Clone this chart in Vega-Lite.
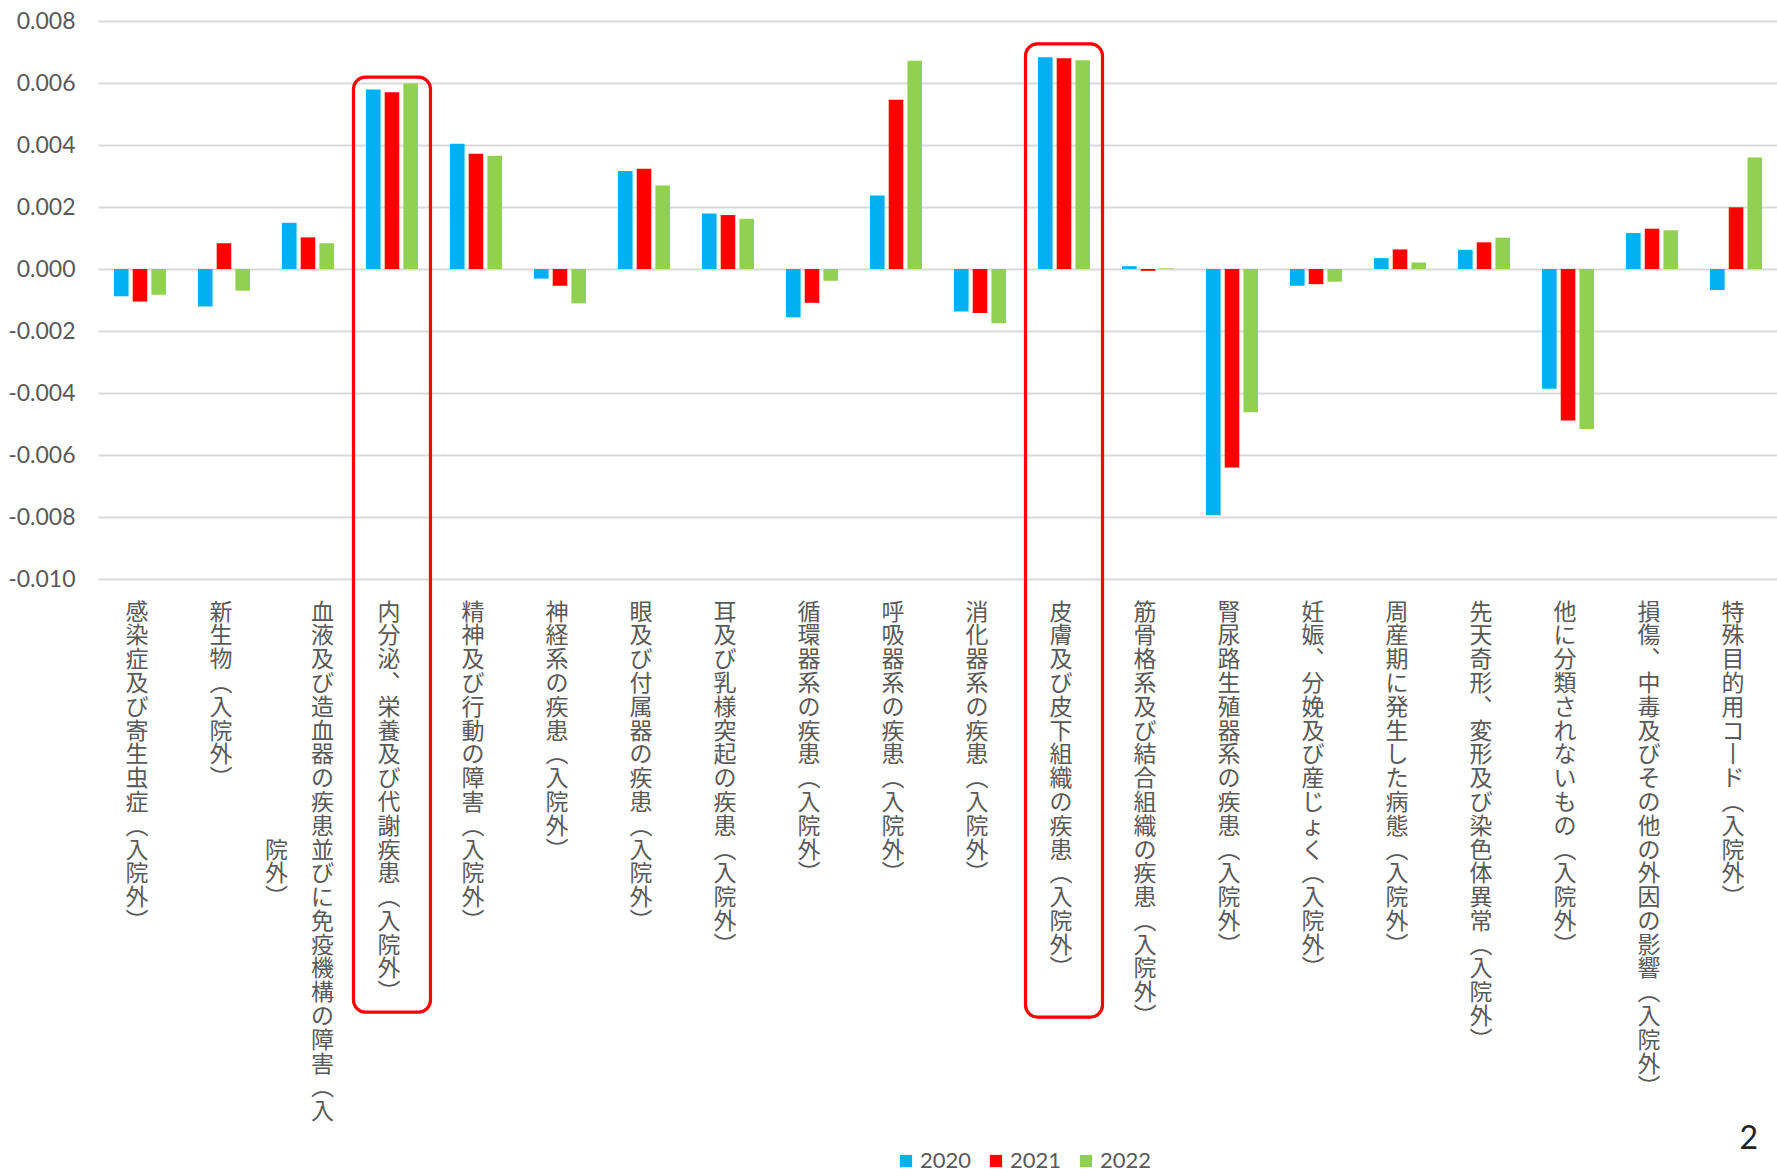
{
  "$schema": "https://vega.github.io/schema/vega-lite/v6.json",
  "width": 1680,
  "height": 558,
  "autosize": {"type": "none"},
  "padding": {"left": 98, "top": 21, "right": 0, "bottom": 593},
  "background": "white",
  "title": {"text": "2", "orient": "bottom", "anchor": "end", "fontSize": 32, "font": "Lato", "fontWeight": "normal", "color": "#222222", "dx": -20, "dy": -48, "offset": 0},
  "config": {"view": {"stroke": null}},
  "layer": [
    {
      "data": {"values": [
        {"cat": "感染症及び寄生虫症（入院外）", "year": "2020", "value": -0.00088},
        {"cat": "感染症及び寄生虫症（入院外）", "year": "2021", "value": -0.00105},
        {"cat": "感染症及び寄生虫症（入院外）", "year": "2022", "value": -0.00083},
        {"cat": "新生物（入院外）", "year": "2020", "value": -0.00121},
        {"cat": "新生物（入院外）", "year": "2021", "value": 0.00083},
        {"cat": "新生物（入院外）", "year": "2022", "value": -0.0007},
        {"cat": "血液及び造血器の疾患並びに免疫機構の障害（入院外）", "year": "2020", "value": 0.00149},
        {"cat": "血液及び造血器の疾患並びに免疫機構の障害（入院外）", "year": "2021", "value": 0.00102},
        {"cat": "血液及び造血器の疾患並びに免疫機構の障害（入院外）", "year": "2022", "value": 0.00083},
        {"cat": "内分泌、栄養及び代謝疾患（入院外）", "year": "2020", "value": 0.00579},
        {"cat": "内分泌、栄養及び代謝疾患（入院外）", "year": "2021", "value": 0.0057},
        {"cat": "内分泌、栄養及び代謝疾患（入院外）", "year": "2022", "value": 0.00598},
        {"cat": "精神及び行動の障害（入院外）", "year": "2020", "value": 0.00404},
        {"cat": "精神及び行動の障害（入院外）", "year": "2021", "value": 0.00372},
        {"cat": "精神及び行動の障害（入院外）", "year": "2022", "value": 0.00365},
        {"cat": "神経系の疾患（入院外）", "year": "2020", "value": -0.00031},
        {"cat": "神経系の疾患（入院外）", "year": "2021", "value": -0.00054},
        {"cat": "神経系の疾患（入院外）", "year": "2022", "value": -0.00111},
        {"cat": "眼及び付属器の疾患（入院外）", "year": "2020", "value": 0.00316},
        {"cat": "眼及び付属器の疾患（入院外）", "year": "2021", "value": 0.00323},
        {"cat": "眼及び付属器の疾患（入院外）", "year": "2022", "value": 0.00269},
        {"cat": "耳及び乳様突起の疾患（入院外）", "year": "2020", "value": 0.00179},
        {"cat": "耳及び乳様突起の疾患（入院外）", "year": "2021", "value": 0.00174},
        {"cat": "耳及び乳様突起の疾患（入院外）", "year": "2022", "value": 0.00162},
        {"cat": "循環器系の疾患（入院外）", "year": "2020", "value": -0.00156},
        {"cat": "循環器系の疾患（入院外）", "year": "2021", "value": -0.00109},
        {"cat": "循環器系の疾患（入院外）", "year": "2022", "value": -0.00038},
        {"cat": "呼吸器系の疾患（入院外）", "year": "2020", "value": 0.00237},
        {"cat": "呼吸器系の疾患（入院外）", "year": "2021", "value": 0.00546},
        {"cat": "呼吸器系の疾患（入院外）", "year": "2022", "value": 0.00672},
        {"cat": "消化器系の疾患（入院外）", "year": "2020", "value": -0.00137},
        {"cat": "消化器系の疾患（入院外）", "year": "2021", "value": -0.00142},
        {"cat": "消化器系の疾患（入院外）", "year": "2022", "value": -0.00175},
        {"cat": "皮膚及び皮下組織の疾患（入院外）", "year": "2020", "value": 0.00683},
        {"cat": "皮膚及び皮下組織の疾患（入院外）", "year": "2021", "value": 0.0068},
        {"cat": "皮膚及び皮下組織の疾患（入院外）", "year": "2022", "value": 0.00673},
        {"cat": "筋骨格系及び結合組織の疾患（入院外）", "year": "2020", "value": 0.00009},
        {"cat": "筋骨格系及び結合組織の疾患（入院外）", "year": "2021", "value": -0.00006},
        {"cat": "筋骨格系及び結合組織の疾患（入院外）", "year": "2022", "value": 0.00002},
        {"cat": "腎尿路生殖器系の疾患（入院外）", "year": "2020", "value": -0.00794},
        {"cat": "腎尿路生殖器系の疾患（入院外）", "year": "2021", "value": -0.0064},
        {"cat": "腎尿路生殖器系の疾患（入院外）", "year": "2022", "value": -0.00462},
        {"cat": "妊娠、分娩及び産じょく（入院外）", "year": "2020", "value": -0.00054},
        {"cat": "妊娠、分娩及び産じょく（入院外）", "year": "2021", "value": -0.00049},
        {"cat": "妊娠、分娩及び産じょく（入院外）", "year": "2022", "value": -0.00041},
        {"cat": "周産期に発生した病態（入院外）", "year": "2020", "value": 0.00035},
        {"cat": "周産期に発生した病態（入院外）", "year": "2021", "value": 0.00063},
        {"cat": "周産期に発生した病態（入院外）", "year": "2022", "value": 0.00021},
        {"cat": "先天奇形、変形及び染色体異常（入院外）", "year": "2020", "value": 0.00062},
        {"cat": "先天奇形、変形及び染色体異常（入院外）", "year": "2021", "value": 0.00086},
        {"cat": "先天奇形、変形及び染色体異常（入院外）", "year": "2022", "value": 0.00101},
        {"cat": "他に分類されないもの（入院外）", "year": "2020", "value": -0.00386},
        {"cat": "他に分類されないもの（入院外）", "year": "2021", "value": -0.00489},
        {"cat": "他に分類されないもの（入院外）", "year": "2022", "value": -0.00516},
        {"cat": "損傷、中毒及びその他の外因の影響（入院外）", "year": "2020", "value": 0.00116},
        {"cat": "損傷、中毒及びその他の外因の影響（入院外）", "year": "2021", "value": 0.0013},
        {"cat": "損傷、中毒及びその他の外因の影響（入院外）", "year": "2022", "value": 0.00125},
        {"cat": "特殊目的用コード（入院外）", "year": "2020", "value": -0.00068},
        {"cat": "特殊目的用コード（入院外）", "year": "2021", "value": 0.00199},
        {"cat": "特殊目的用コード（入院外）", "year": "2022", "value": 0.0036}
      ]},
      "mark": {"type": "bar"},
      "encoding": {
        "x": {
          "field": "cat", "type": "nominal", "sort": null,
          "scale": {"paddingInner": 0.381, "paddingOuter": 0.19},
          "axis": {
            "title": null, "labelAngle": 0, "domain": false, "ticks": false, "grid": false,
            "labelPadding": 22, "labelBaseline": "top",
            "labelAlign": {"condition": {"test": "datum.value == '血液及び造血器の疾患並びに免疫機構の障害（入院外）'", "value": "right"}, "value": "center"},
            "labelOffset": {"condition": {"test": "datum.value == '血液及び造血器の疾患並びに免疫機構の障害（入院外）'", "value": 26}, "value": -3},
            "labelFont": "Noto Sans CJK JP", "labelFontSize": 23, "labelLineHeight": 23.8,
            "labelColor": "#595959", "labelOverlap": false, "labelLimit": 0, "labelBound": false,
            "labelExpr": "datum.value == '血液及び造血器の疾患並びに免疫機構の障害（入院外）' ? ['血','液','及','び','造','血','器','の','疾','患','院　並','外　び','︶　に','免','疫','機','構','の','障','害','︵','入'] : split(replace(replace(replace(replace(datum.value,'（','︵'),'）','︶'),'、','︑'),'ー','丨'),'')"
          }
        },
        "xOffset": {"field": "year", "type": "nominal", "scale": {"paddingInner": 0.22, "paddingOuter": 0}},
        "y": {
          "field": "value", "type": "quantitative",
          "scale": {"domain": [-0.01, 0.008], "nice": false, "zero": false},
          "axis": {
            "title": null, "values": [-0.01, -0.008, -0.006, -0.004, -0.002, 0, 0.002, 0.004, 0.006, 0.008],
            "labelExpr": "replace(format(datum.value, '.3f'), '−', '-')",
            "domain": false, "ticks": false, "grid": true, "gridColor": "#d9d9d9", "gridWidth": 2,
            "labelPadding": 23, "labelFont": "Lato", "labelFontSize": 23, "labelColor": "#595959"
          }
        },
        "color": {
          "field": "year", "type": "nominal",
          "scale": {"domain": ["2020", "2021", "2022"], "range": ["#00B0F0", "#FF0000", "#92D050"]},
          "legend": {
            "title": null, "orient": "none", "direction": "horizontal", "legendX": 797, "legendY": 1129,
            "symbolType": "square", "symbolSize": 150, "symbolStrokeWidth": 0,
            "labelFont": "Lato", "labelFontSize": 22, "labelColor": "#595959", "labelOffset": 3,
            "columnPadding": 13, "padding": 0
          }
        }
      }
    },
    {
      "data": {"values": [
        {"cat": "内分泌、栄養及び代謝疾患（入院外）", "top": 0.00619, "bottom": -0.02397},
        {"cat": "皮膚及び皮下組織の疾患（入院外）", "top": 0.00726, "bottom": -0.02413}
      ]},
      "mark": {"type": "bar", "width": 77, "fill": "transparent", "stroke": "#FF0000", "strokeWidth": 3.2, "cornerRadius": 12, "clip": false},
      "encoding": {
        "x": {"field": "cat", "type": "nominal", "sort": null},
        "y": {"field": "top", "type": "quantitative"},
        "y2": {"field": "bottom"}
      }
    }
  ]
}
